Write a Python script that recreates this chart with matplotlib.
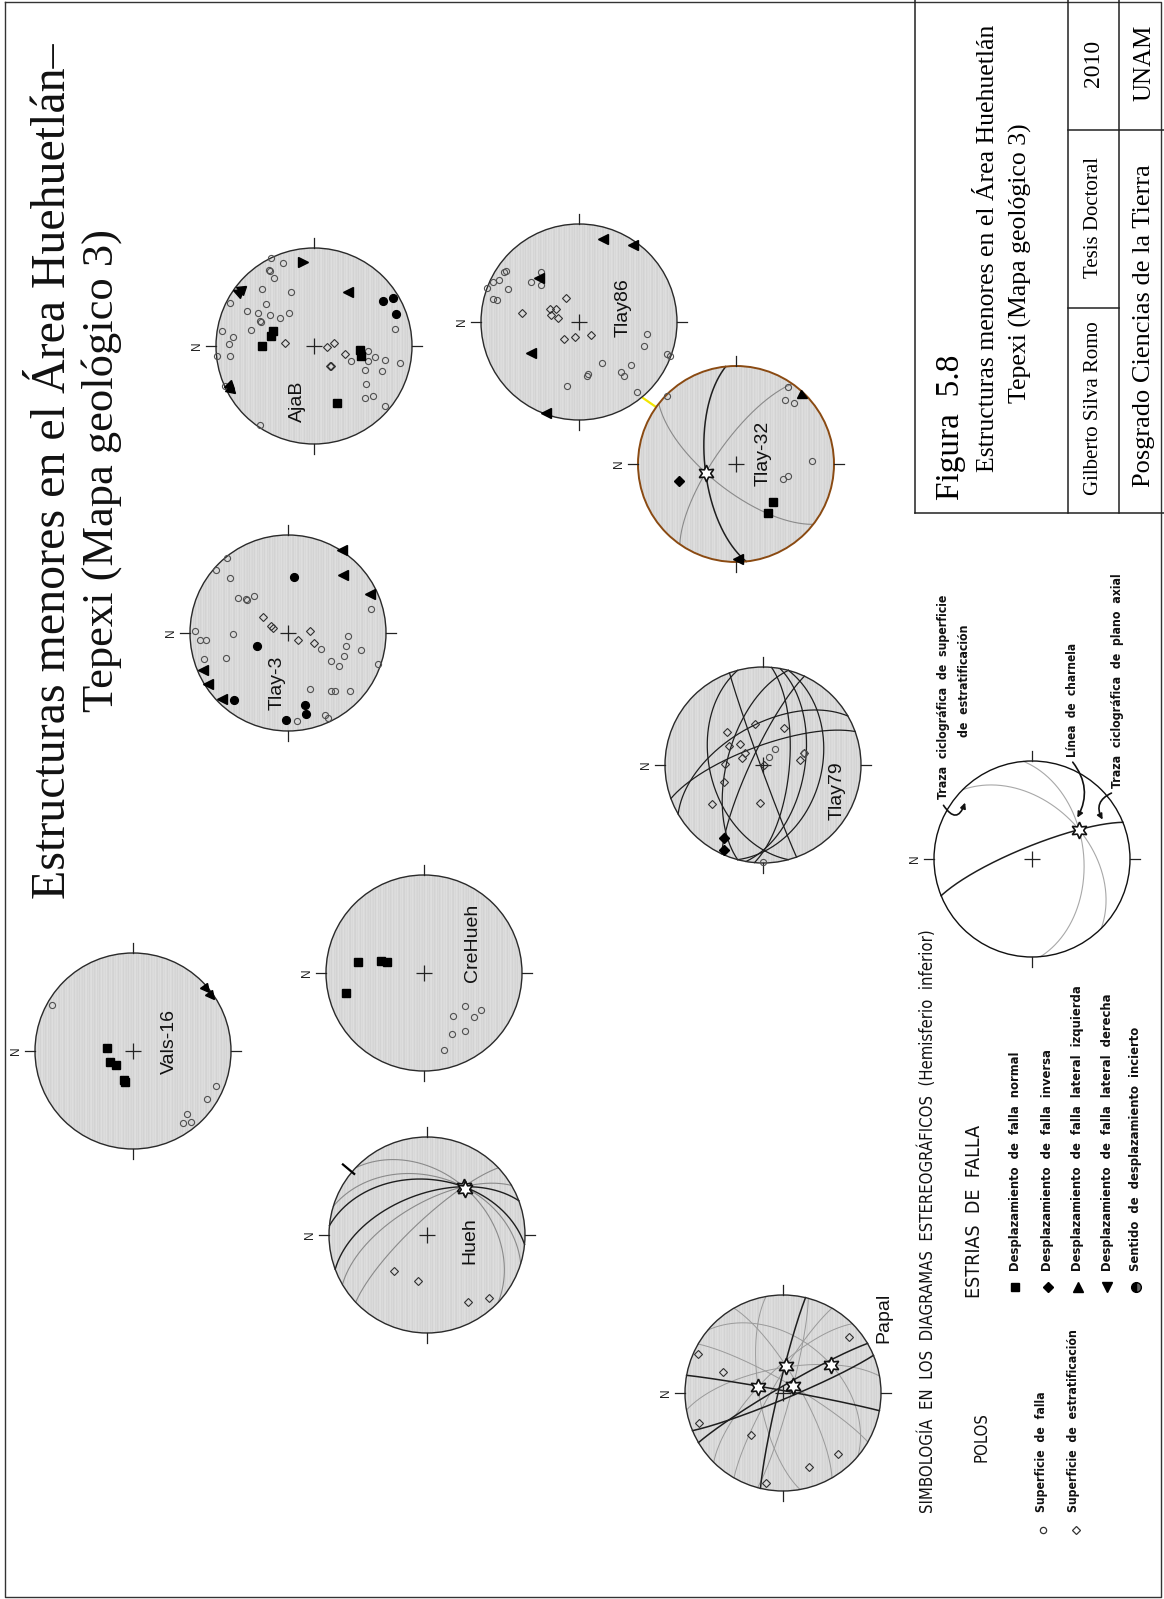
import numpy as np
import matplotlib
matplotlib.use("Agg")
import matplotlib.pyplot as plt
from matplotlib.patches import Circle, FancyArrowPatch
from matplotlib.markers import MarkerStyle
from matplotlib.transforms import Affine2D

# ------------------------------------------------------------------
# DATA  (net coordinates: unit primitive circle,
#        u to the right, v upwards; N of every net points to the left)
# ------------------------------------------------------------------
vals16_squares = [(-0.265, 0.027), (-0.238, -0.109), (-0.170, -0.146), (-0.095, -0.296), (-0.082, -0.316)]
vals16_circles = [(-0.830, 0.473), (0.850, -0.357), (0.759, -0.493), (0.554, -0.646), (0.510, -0.731), (0.595, -0.724)]
vals16_triangles = [(0.748, 0.629, -50), (0.799, 0.561, -50)]

hueh_diamonds = [(-0.337, -0.367), (-0.092, -0.466), (0.418, -0.684), (0.633, -0.639)]
hueh_axis = [(0.374, 0.493), (0.392, 0.468)]
hueh_bedding_strikes = [136.6, 163.0, 210.4, 223.3]
hueh_axial_strikes = [174.5, 200.5]
hueh_marks = [(140.0, 0.97, 1.12)]

crehueh_squares = [(-0.673, 0.109), (-0.435, 0.126), (-0.378, 0.109), (-0.799, -0.204)]
crehueh_circles = [(0.422, -0.333), (0.585, -0.381), (0.296, -0.435), (0.507, -0.449), (0.422, -0.595),
                   (0.289, -0.619), (0.204, -0.782)]

tlay3_circles = [(-0.622, 0.765), (-0.738, 0.646), (-0.595, 0.561), (-0.510, 0.357), (-0.425, 0.347),
                 (-0.418, 0.333), (-0.347, 0.374), (-0.946, 0.017), (-0.895, -0.075), (-0.833, -0.068),
                 (-0.561, -0.007), (-0.857, -0.265), (-0.636, -0.255), (0.844, 0.245), (0.612, -0.034),
                 (0.595, -0.136), (0.748, -0.177), (0.340, -0.163), (0.568, -0.238), (0.442, -0.289),
                 (0.520, -0.340), (0.918, -0.313), (0.221, -0.568), (0.435, -0.595), (0.483, -0.595),
                 (0.629, -0.595), (0.374, -0.833), (0.408, -0.867), (0.095, -0.901)]
tlay3_dots = [(0.061, 0.571), (-0.316, -0.129), (-0.551, -0.680), (0.170, -0.731), (0.187, -0.823), (-0.024, -0.891)]
tlay3_diamonds = [(-0.255, 0.163), (-0.170, 0.068), (-0.153, 0.048), (0.221, 0.017), (0.102, -0.075), (0.265, -0.102)]
tlay3_triangles = [(0.554, 0.844, 180), (0.561, 0.595, 180), (0.833, 0.401, 180), (-0.867, -0.381, 180),
                   (-0.816, -0.517, 180), (-0.670, -0.673, 180)]

ajab_circles = [(-0.434, 0.902), (-0.320, 0.845), (-0.461, 0.774), (-0.451, 0.761), (-0.404, 0.690),
                (-0.535, 0.582), (-0.232, 0.549), (-0.859, 0.438), (-0.488, 0.431), (-0.680, 0.354),
                (-0.569, 0.337), (-0.451, 0.313), (-0.343, 0.290), (-0.253, 0.340), (-0.545, 0.246),
                (-0.555, 0.255), (-0.640, 0.168), (-0.943, 0.152), (-0.825, 0.094), (-0.865, 0.017),
                (-0.990, -0.101), (-0.859, -0.101), (0.828, 0.178), (0.556, -0.047), (0.626, -0.108),
                (0.380, -0.152), (0.549, -0.148), (0.727, -0.141), (0.875, -0.175), (0.522, -0.249),
                (0.694, -0.259), (0.532, -0.384), (0.522, -0.529), (0.599, -0.512), (0.724, -0.613),
                (-0.556, -0.808), (-0.906, -0.404)]
ajab_dots = [(0.707, 0.455), (0.811, 0.488), (0.835, 0.330)]
ajab_squares = [(-0.438, 0.101), (-0.418, 0.152), (-0.529, 0.0), (0.471, -0.040), (0.481, -0.101), (0.239, -0.579)]
ajab_diamonds = [(-0.300, 0.027), (0.128, -0.013), (0.205, 0.034), (0.313, -0.081), (0.162, -0.209), (0.176, -0.200)]
ajab_triangles = [(-0.108, 0.862, 0), (0.347, 0.556, 180), (-0.781, 0.549, 160), (-0.754, 0.582, 160),
                  (-0.882, -0.411, 195), (-0.865, -0.444, 195)]

tlay86_circles = [(-0.942, 0.347), (-0.874, 0.408), (-0.813, 0.432), (-0.762, 0.510), (-0.748, 0.525),
                  (-0.728, 0.340), (-0.881, 0.238), (-0.840, 0.221), (-0.490, 0.408), (-0.391, 0.510),
                  (-0.391, 0.374), (0.690, -0.126), (0.663, -0.245), (0.901, -0.330), (0.929, -0.347),
                  (0.231, -0.415), (0.527, -0.435), (0.429, -0.510), (0.463, -0.554), (0.088, -0.527),
                  (0.078, -0.554), (-0.119, -0.656), (0.588, -0.714)]
tlay86_diamonds = [(-0.585, 0.095), (-0.296, 0.136), (-0.235, 0.136), (-0.289, 0.068), (-0.211, 0.041),
                   (-0.136, 0.245), (-0.153, -0.170), (-0.037, -0.153), (0.122, -0.136)]
tlay86_triangles = [(0.248, 0.850, 180), (0.554, 0.782, 180), (-0.408, 0.452, 180), (-0.490, -0.313, 180),
                    (-0.337, -0.929, 180)]

tlay32_circles = [(-0.701, 0.694), (0.534, 0.782), (0.500, 0.653), (0.595, 0.619), (0.779, 0.034),
                  (0.483, -0.156), (0.534, -0.119)]
tlay32_filled_diamonds = [(-0.578, -0.170)]
tlay32_squares = [(0.381, -0.391), (0.323, -0.503)]
tlay32_triangles = [(0.687, 0.697, -30), (0.024, -0.973, 180)]
tlay32_axis = [(-0.310, -0.088)]
tlay32_axial_strikes = [96.0]
tlay32_bedding_strikes = [142.0, 55.0]

tlay79_diamonds = [(-0.367, 0.340), (-0.078, 0.418), (0.218, 0.381), (-0.344, 0.194), (-0.231, 0.211),
                   (-0.180, 0.119), (-0.214, 0.068), (-0.384, 0.010), (-0.395, -0.170), (-0.520, -0.401),
                   (-0.027, -0.384), (0.381, 0.051), (0.422, 0.119), (0.007, 0.0)]
tlay79_circles = [(0.058, 0.078), (0.126, 0.160), (0.415, 0.119), (0.0, -0.986)]
tlay79_filled_diamonds = [(-0.395, -0.748), (-0.395, -0.867)]
# planes: (dip direction angle in the net frame, dip)
tlay79_plane_dipdir = [110, 120, 195, 200, 155, -10, -5, -15, 165]
tlay79_plane_dip = [74, 57, 45, 88, 80, 55, 68, 40, 60]

papal_axes = [(0.034, 0.272), (0.490, 0.289), (-0.255, 0.061), (0.102, 0.068)]
papal_diamonds = [(-0.871, 0.395), (-0.616, 0.214), (0.670, 0.571), (-0.861, -0.303), (-0.323, -0.432),
                  (0.561, -0.626), (0.269, -0.755), (-0.170, -0.915)]
papal_plane_dipdir = [166.7, 79.6, 120.4, 292.6]
papal_plane_dip = [86, 88, 85, 85]
papal_bedding_axis_index = [0, 0, 1, 1, 2, 2, 3, 3]
papal_bedding_strikes = [120, 60, 140, 10, 100, 45, 150, 75]

legend_axis = [(0.48, 0.30)]
legend_axial_strikes = [22.0]
legend_bedding_strikes = [135.0, 95.0]

# ------------------------------------------------------------------
W, H = 1164, 1599
R = 98.0

fig = plt.figure(figsize=(W / 100, H / 100), dpi=100)
page = fig.add_axes([0, 0, 1, 1])
page.set_xlim(0, W)
page.set_ylim(H, 0)
page.axis('off')

SANS = ['Liberation Sans', 'DejaVu Sans']
SERIF = ['Liberation Serif', 'DejaVu Serif']


def project(vec):
    vec = np.atleast_2d(vec)
    z = np.clip(-vec[:, 2], -1, 1)
    plunge = np.arcsin(z)
    theta = np.arctan2(vec[:, 1], vec[:, 0])
    r = np.sqrt(2) * np.sin((np.pi / 2 - plunge) / 2)
    return r * np.cos(theta), r * np.sin(theta)


def line_vec(u, v):
    r = np.hypot(u, v)
    th = np.arctan2(v, u)
    pl = np.pi / 2 - 2 * np.arcsin(min(r, 1.0) / np.sqrt(2))
    return np.array([np.cos(pl) * np.cos(th), np.cos(pl) * np.sin(th), -np.sin(pl)])


def plane_curve(dipdir, dip, n=240):
    a, d = np.radians(dipdir), np.radians(dip)
    s = np.array([np.cos(a + np.pi / 2), np.sin(a + np.pi / 2), 0.0])
    dv = np.array([np.cos(a) * np.cos(d), np.sin(a) * np.cos(d), -np.sin(d)])
    t = np.linspace(0, np.pi, n)
    return project(np.outer(np.cos(t), s) + np.outer(np.sin(t), dv))


def plane_through_axis(axis_uv, strike, n=240):
    L = line_vec(*axis_uv)
    p = np.radians(strike)
    s = np.array([np.cos(p), np.sin(p), 0.0])
    w = L - np.dot(L, s) * s
    w = w / np.linalg.norm(w)
    if w[2] > 0:
        w = -w
    t = np.linspace(0, np.pi, n)
    return project(np.outer(np.cos(t), s) + np.outer(np.sin(t), w))


stripes = np.array([[0.83, 0.86, 0.845, 0.87, 0.835, 0.855] * 40])


def add_net(cx, cy, shaded=True, edge='#2a2a2a', lw=1.0):
    m = 1.35
    ax = fig.add_axes([(cx - m * R) / W, 1 - (cy + m * R) / H, 2 * m * R / W, 2 * m * R / H])
    ax.set_xlim(-m, m)
    ax.set_ylim(-m, m)
    ax.axis('off')
    if shaded:
        clip = Circle((0, 0), 1, transform=ax.transData, facecolor='none', edgecolor='none')
        ax.add_patch(clip)
        im = ax.imshow(stripes, extent=[-1, 1, -1, 1], cmap='gray', vmin=0, vmax=1,
                       interpolation='nearest', aspect='auto', zorder=0)
        im.set_clip_path(clip)
        ax.set_xlim(-m, m)
        ax.set_ylim(-m, m)
    ax.add_patch(Circle((0, 0), 1, facecolor='none', edgecolor=edge, lw=lw, zorder=5))
    for ang in (0, 90, 180, 270):
        c, s = np.cos(np.radians(ang)), np.sin(np.radians(ang))
        ax.plot([c, 1.1 * c], [s, 1.1 * s], color='#222222', lw=0.9, zorder=5)
    ax.plot([0], [0], marker='+', ms=11, mew=0.9, color='#222222', zorder=6)
    ax.text(-1.19, 0, 'N', rotation=90, ha='center', va='center', fontsize=8.5,
            family=SANS, color='#222222')
    return ax


def pts(ax, data, kind):
    if not data:
        return
    u = [p[0] for p in data]
    v = [p[1] for p in data]
    if kind == 'circle':
        ax.plot(u, v, ls='none', marker='o', ms=4.4, mfc='none', mec='#505050', mew=0.8, zorder=8)
    elif kind == 'dot':
        ax.plot(u, v, ls='none', marker='o', ms=5.6, mfc='black', mec='black', zorder=8)
    elif kind == 'square':
        ax.plot(u, v, ls='none', marker='s', ms=5.2, mfc='black', mec='black', zorder=8)
    elif kind == 'diamond':
        ax.plot(u, v, ls='none', marker='D', ms=4.3, mfc='none', mec='#303030', mew=0.8, zorder=8)
    elif kind == 'fdiamond':
        ax.plot(u, v, ls='none', marker='D', ms=4.6, mfc='black', mec='black', zorder=8)
    elif kind == 'star':
        ax.plot(u, v, ls='none', marker=(6, 1, 0), ms=12, mfc='white', mec='#111111', mew=1.2, zorder=9)


def tris(ax, data):
    for u, v, ang in data:
        mk = MarkerStyle('>', transform=Affine2D().rotate_deg(ang))
        ax.plot([u], [v], ls='none', marker=mk, ms=6.5, color='black', zorder=8)


DARK = '#1e1e1e'
GREY = '#8a8a8a'

# ---------------- Vals-16 ----------------
ax = add_net(133, 1051)
pts(ax, vals16_circles, 'circle')
pts(ax, vals16_squares, 'square')
tris(ax, vals16_triangles)

# ---------------- Hueh ----------------
ax = add_net(427, 1235)
for st in hueh_bedding_strikes:
    x, y = plane_through_axis(hueh_axis[0], st)
    ax.plot(x, y, color=GREY, lw=0.8, zorder=3)
for st in hueh_axial_strikes:
    x, y = plane_through_axis(hueh_axis[0], st)
    ax.plot(x, y, color=DARK, lw=1.0, zorder=4)
for ang, r0, r1 in hueh_marks:
    c, s = np.cos(np.radians(ang)), np.sin(np.radians(ang))
    ax.plot([r0 * c, r1 * c], [r0 * s, r1 * s], color='black', lw=1.6, zorder=6)
pts(ax, hueh_diamonds, 'diamond')
pts(ax, hueh_axis, 'star')

# ---------------- CreHueh ----------------
ax = add_net(424, 973)
pts(ax, crehueh_circles, 'circle')
pts(ax, crehueh_squares, 'square')

# ---------------- Tlay-3 ----------------
ax = add_net(288, 633)
pts(ax, tlay3_circles, 'circle')
pts(ax, tlay3_diamonds, 'diamond')
pts(ax, tlay3_dots, 'dot')
tris(ax, tlay3_triangles)

# ---------------- AjaB ----------------
ax = add_net(314, 346)
pts(ax, ajab_circles, 'circle')
pts(ax, ajab_diamonds, 'diamond')
pts(ax, ajab_dots, 'dot')
pts(ax, ajab_squares, 'square')
tris(ax, ajab_triangles)

# ---------------- Tlay86 ----------------
ax = add_net(579, 322)
pts(ax, tlay86_circles, 'circle')
pts(ax, tlay86_diamonds, 'diamond')
tris(ax, tlay86_triangles)

# ---------------- Tlay-32 ----------------
page.plot([643, 656], [398, 407], color='#f2e600', lw=1.6)
ax = add_net(736, 464, edge='#8a4a12', lw=1.4)
for st in tlay32_bedding_strikes:
    x, y = plane_through_axis(tlay32_axis[0], st)
    ax.plot(x, y, color=GREY, lw=0.8, zorder=3)
for st in tlay32_axial_strikes:
    x, y = plane_through_axis(tlay32_axis[0], st)
    ax.plot(x, y, color=DARK, lw=1.1, zorder=4)
pts(ax, tlay32_circles, 'circle')
pts(ax, tlay32_filled_diamonds, 'fdiamond')
pts(ax, tlay32_squares, 'square')
tris(ax, tlay32_triangles)
pts(ax, tlay32_axis, 'star')

# ---------------- Tlay79 ----------------
ax = add_net(763, 765)
for dd, dp in zip(tlay79_plane_dipdir, tlay79_plane_dip):
    x, y = plane_curve(dd, dp)
    ax.plot(x, y, color=DARK, lw=0.9, zorder=3)
pts(ax, tlay79_diamonds, 'diamond')
pts(ax, tlay79_circles, 'circle')
pts(ax, tlay79_filled_diamonds, 'fdiamond')

# ---------------- Papal ----------------
ax = add_net(783, 1393)
for i, st in zip(papal_bedding_axis_index, papal_bedding_strikes):
    x, y = plane_through_axis(papal_axes[i], st)
    ax.plot(x, y, color='#9a9a9a', lw=0.7, zorder=3)
for dd, dp in zip(papal_plane_dipdir, papal_plane_dip):
    x, y = plane_curve(dd, dp)
    ax.plot(x, y, color=DARK, lw=1.1, zorder=4)
pts(ax, papal_diamonds, 'diamond')
pts(ax, papal_axes, 'star')

# ---------------- legend net ----------------
ax = add_net(1032, 859, shaded=False, edge='#111111')
for st in legend_bedding_strikes:
    x, y = plane_through_axis(legend_axis[0], st)
    ax.plot(x, y, color='#a8a8a8', lw=0.8, zorder=3)
for st in legend_axial_strikes:
    x, y = plane_through_axis(legend_axis[0], st)
    ax.plot(x, y, color=DARK, lw=1.1, zorder=4)
pts(ax, legend_axis, 'star')

# ---------------- overlay for labels on top of the nets ----------------
top = fig.add_axes([0, 0, 1, 1], zorder=20)
top.set_xlim(0, W)
top.set_ylim(H, 0)
top.axis('off')
top.patch.set_alpha(0)

net_labels = [('Vals-16', 169, 1042), ('Hueh', 470, 1241), ('CreHueh', 473, 943), ('Tlay-3', 277, 683),
              ('AjaB', 297, 401), ('Tlay86', 623, 308), ('Tlay-32', 763, 453), ('Tlay79', 837, 791),
              ('Papal', 884, 1318)]
for txt, x, y in net_labels:
    top.text(x, y, txt, rotation=90, ha='center', va='center', fontsize=14, family=SANS, color='#111111')

# ---------------- page frame & title ----------------
page.plot([5, 1161, 1161, 5, 5], [2, 2, 1597, 1597, 2], color='#333333', lw=1.0)
page.text(53, 471, 'Estructuras menores en el Área Huehuetlán–', rotation=90, ha='center', va='center',
          fontsize=34.5, family=SERIF, color='#111111')
page.text(102, 470, 'Tepexi (Mapa geológico 3)', rotation=90, ha='center', va='center',
          fontsize=32, family=SERIF, color='#111111')

# title block
bl = dict(color='#222222', lw=1.1)
page.plot([915, 915], [0, 513], **bl)
page.plot([915, 1164], [513, 513], **bl)
page.plot([1068, 1068], [0, 513], **bl)
page.plot([1119, 1119], [0, 513], **bl)
page.plot([1068, 1164], [130, 130], **bl)
page.plot([1068, 1119], [308, 308], **bl)
page.text(951, 500, 'Figura  5.8', rotation=90, rotation_mode='anchor', ha='left', va='center',
          fontsize=24, family=SERIF)
page.text(988, 248, 'Estructuras menores en el Área Huehuetlán', rotation=90, ha='center', va='center',
          fontsize=18.5, family=SERIF)
page.text(1020, 263, 'Tepexi (Mapa geológico 3)', rotation=90, ha='center', va='center',
          fontsize=18.5, family=SERIF)
page.text(1094, 408, 'Gilberto Silva Romo', rotation=90, ha='center', va='center', fontsize=15, family=SERIF)
page.text(1094, 217, 'Tesis Doctoral', rotation=90, ha='center', va='center', fontsize=15, family=SERIF)
page.text(1094, 63, '2010', rotation=90, ha='center', va='center', fontsize=17, family=SERIF)
page.text(1144, 63, 'UNAM', rotation=90, ha='center', va='center', fontsize=18, family=SERIF)
page.text(1144, 326, 'Posgrado Ciencias de la Tierra', rotation=90, ha='center', va='center',
          fontsize=19, family=SERIF)

# ---------------- legend ----------------
LEG = dict(family=['DejaVu Sans'], fontstretch='condensed', color='#111111')


def ltext(x, y, s, size, weight='bold', anchor='left'):
    top.text(x, y, s, rotation=90, rotation_mode='anchor', ha=anchor, va='center',
             fontsize=size, fontweight=weight, **LEG)


ltext(928, 1513, 'SIMBOLOGÍA  EN  LOS  DIAGRAMAS  ESTEREOGRÁFICOS  (Hemisferio  inferior)', 12, 'medium')
ltext(974, 1298, 'ESTRIAS  DE  FALLA', 14, 'medium')
ltext(982, 1462, 'POLOS', 12, 'medium')
ltext(1041, 1512, 'Superficie  de  falla', 8.8)
ltext(1073, 1512, 'Superficie  de  estratificación', 8.8)
page.plot([1043], [1530], ls='none', marker='o', ms=4.5, mfc='none', mec='#333333', mew=0.9)
page.plot([1076], [1530], ls='none', marker='D', ms=4.5, mfc='none', mec='#333333', mew=0.9)

striae_labels = ['Desplazamiento  de  falla  normal', 'Desplazamiento  de  falla  inversa',
                 'Desplazamiento  de  falla  lateral  izquierda', 'Desplazamiento  de  falla  lateral  derecha',
                 'Sentido  de  desplazamiento  incierto']
striae_x = [1015, 1048, 1078, 1107, 1136]
for s, x in zip(striae_labels, striae_x):
    ltext(x, 1271, s, 9.3)
page.plot([1015], [1287], ls='none', marker='s', ms=6, color='black')
page.plot([1048], [1287], ls='none', marker='D', ms=5.5, color='black')
page.plot([1078], [1287], ls='none', marker='^', ms=7, color='black')
page.plot([1107], [1287], ls='none', marker='v', ms=7, color='black')
page.plot([1136], [1287], ls='none', marker='o', ms=7, fillstyle='left', mfc='black',
          markerfacecoloralt='#666666', mec='black')

ltext(944, 799, 'Traza  ciclográfica  de  superficie', 8.8)
ltext(964, 681, 'de  estratificación', 8.8, anchor='center')
ltext(1073, 757, 'Línea  de  charnela', 8.5)
ltext(1117, 788, 'Traza  ciclográfica  de  plano  axial', 8.8)
arrow_kw = dict(arrowstyle='-|>', mutation_scale=8, lw=1.2, color='#111111')
top.add_patch(FancyArrowPatch((942, 803), (966, 800), connectionstyle='arc3,rad=1.1', **arrow_kw))
top.add_patch(FancyArrowPatch((1071, 760), (1076, 820), connectionstyle='arc3,rad=-0.35', **arrow_kw))
top.add_patch(FancyArrowPatch((1114, 792), (1104, 822), connectionstyle='arc3,rad=0.6', **arrow_kw))

fig.savefig('out.png', dpi=100, facecolor='white')
